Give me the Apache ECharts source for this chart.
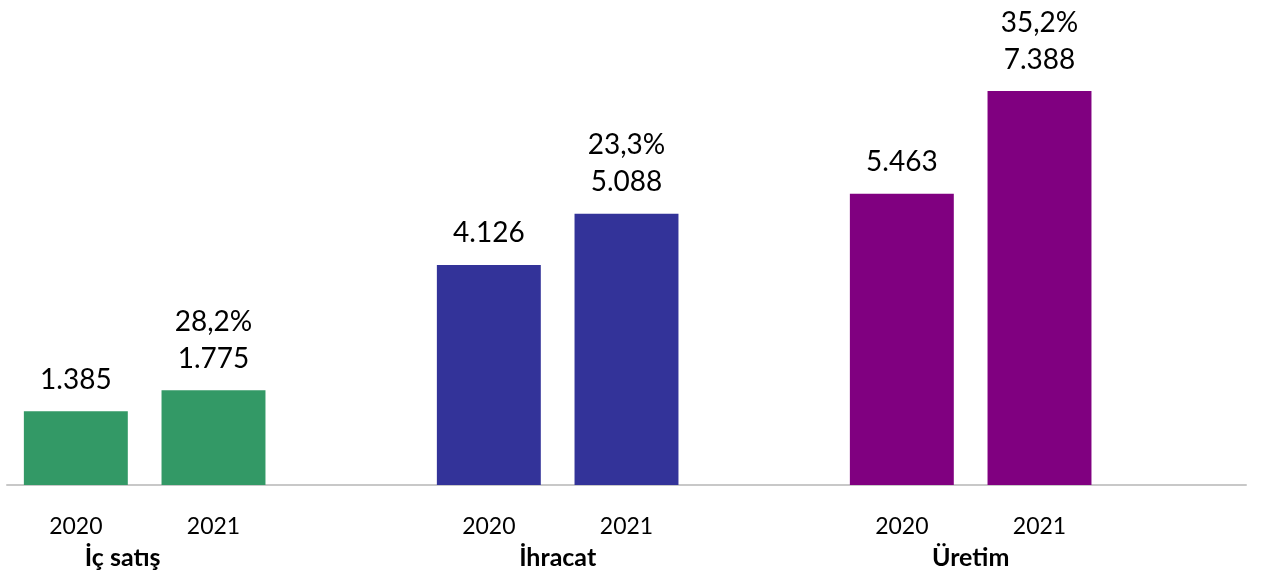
<!DOCTYPE html>
<html>
<head>
<meta charset="utf-8">
<script src="https://cdn.jsdelivr.net/npm/echarts@6/dist/echarts.min.js"></script>
<style>html,body{margin:0;padding:0;background:#fff}#c{width:1262px;height:581px}</style>
</head>
<body>
<div id="c"></div>
<script>
var categories = ['2020', '2021', '', '2020', '2021', '', '2020', '2021', ''];
var groups = ['İç satış', 'İhracat', 'Üretim'];
var values2020 = [1385, 4126, 5463];
var values2021 = [1775, 5088, 7388];
var growth = ['28,2%', '23,3%', '35,2%'];
var colors = ['#339966', '#333399', '#800080'];

function fmt(v) {
  return String(v).replace(/\B(?=(\d{3})+(?!\d))/g, '.');
}

var data = [];
for (var g = 0; g < groups.length; g++) {
  data.push({ value: values2020[g], itemStyle: { color: colors[g] }, label: { formatter: fmt(values2020[g]) } });
  data.push({ value: values2021[g], itemStyle: { color: colors[g] }, label: { formatter: growth[g] + '\n' + fmt(values2021[g]) } });
  data.push(null);
}

var FONT = 'Lato';
var chart = echarts.init(document.getElementById('c'));
chart.setOption({
  animation: false,
  grid: { left: 7, right: 16, top: 5, bottom: 96 },
  xAxis: {
    type: 'category',
    data: categories,
    axisLine: { lineStyle: { color: '#c8c8c8', width: 2 } },
    axisTick: { show: false },
    axisLabel: { interval: 0, margin: 30, color: '#000', fontFamily: FONT, fontSize: 23 }
  },
  yAxis: {
    type: 'value', min: 0, max: 9000,
    show: false,
    splitLine: { show: false }
  },
  series: [{
    type: 'bar',
    barWidth: '75.5%',
    data: data,
    label: {
      show: true, position: 'top', distance: 13,
      color: '#000', fontFamily: FONT, fontSize: 28, lineHeight: 37
    }
  }]
});

var graphics = [];
var shifts = [-22, 0, 0];
for (var g = 0; g < groups.length; g++) {
  var x1 = chart.convertToPixel({ xAxisIndex: 0 }, g * 3);
  var x2 = chart.convertToPixel({ xAxisIndex: 0 }, g * 3 + 1);
  graphics.push({
    type: 'text',
    x: (x1 + x2) / 2 + shifts[g],
    y: 558,
    style: {
      text: groups[g], fill: '#000', font: 'bold 25px ' + FONT,
      textAlign: 'center', textVerticalAlign: 'middle'
    }
  });
}
chart.setOption({ graphic: graphics });
</script>
</body>
</html>
